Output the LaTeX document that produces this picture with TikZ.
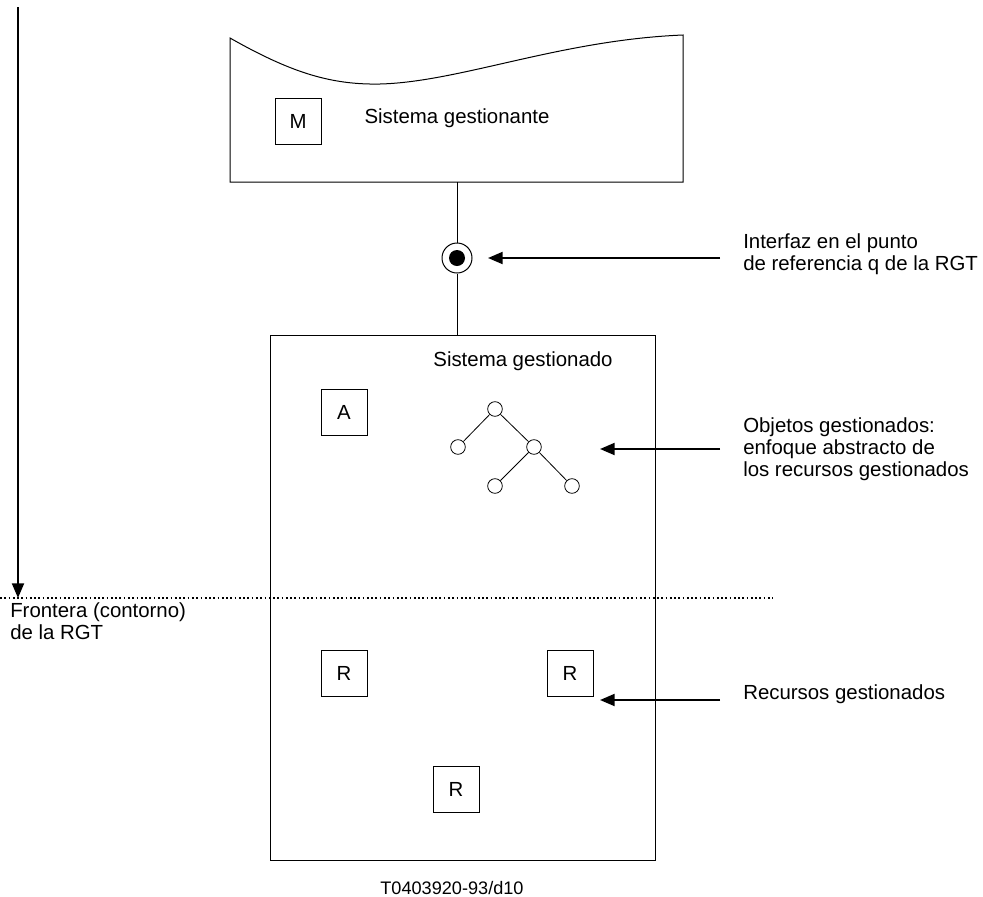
\documentclass[tikz,border=0pt]{standalone}
\usepackage{fontspec}
\setmainfont{Liberation Sans}
\usetikzlibrary{arrows.meta,positioning}

\begin{document}
\begin{tikzpicture}[
    x=0.75pt, y=-0.75pt,
    node distance=3mm,
    lbl/.style={font=\fontsize{15.3}{16.5}\selectfont, inner sep=0pt},
    sq/.style={rectangle, draw=black, line width=0.75pt, minimum width=34.5pt,
               minimum height=34.5pt, inner sep=0pt, font=\fontsize{15.3}{16.5}\selectfont},
    obj/.style={circle, draw=black, line width=0.6pt, minimum size=11pt, inner sep=0pt},
    note/.style={align=left, anchor=west, font=\fontsize{15.3}{16.5}\selectfont, inner sep=0pt},
    flow/.style={-{Triangle[length=11pt, width=9pt]}, line width=1.5pt}
]
\useasboundingbox (0,0) rectangle (983,897);

% managing system (wavy top)
\draw[line width=0.75pt] (230,38) .. controls (290,72) and (330,85) .. (380,84)
    .. controls (460,82) and (560,40) .. (683,35) -- (683,182) -- (230,182) -- cycle;
\coordinate (mgrbot) at (457,182);
\node[sq] (m) at (298,121) {M};
\node[lbl] (mgrtxt) at (457,118) {Sistema gestionante};

% interface point
\node[circle, draw=black, line width=0.75pt, minimum size=22.5pt, inner sep=0pt] (q) at (457,258) {};
\node[circle, fill=black, minimum size=12pt, inner sep=0pt] at (q) {};

% managed system
\node[rectangle, draw=black, line width=0.75pt, minimum width=288.75pt, minimum height=393.75pt,
      inner sep=0pt] (ms) at (462.5,597.5) {};
\node[lbl] (mstxt) at (523,361) {Sistema gestionado};
\draw[line width=0.75pt] (mgrbot) -- (q.north);
\draw[line width=0.75pt] (q.south) -- (ms.north -| q);

\node[sq] (a) at (344,412) {A};
\node[sq] (r1) at (344,673) {R};
\node[sq] (r2) at (570,673) {R};
\node[sq] (r3) at (456,789) {R};

% managed objects tree
\node[obj] (t0) at (495,409) {};
\node[obj] (t1) at (458,447) {};
\node[obj] (t2) at (534,447) {};
\node[obj] (t3) at (495,486) {};
\node[obj] (t4) at (572,486) {};
\draw[line width=0.6pt] (t0)--(t1) (t0)--(t2) (t2)--(t3) (t2)--(t4);

% boundary
\coordinate (ltop) at (18,7);
\coordinate (bnd) at (18,598);
\draw[line width=1.5pt, dash pattern=on 1.3pt off 1.9pt] (0,598) -- (773,598);
\draw[flow] (ltop) -- (bnd);
\node[note] (front) at (10,621) {Frontera (contorno)\\de la RGT};

% annotations
\node[note] (n1) at (743,254) {Interfaz en el punto\\de referencia q de la RGT};
\node[note] (n2) at (743,449) {Objetos gestionados:\\enfoque abstracto de\\los recursos gestionados};
\node[note] (n3) at (743,694) {Recursos gestionados};
\coordinate (e1) at (720,258);
\coordinate (e2) at (720,449);
\coordinate (e3) at (720,700);
\draw[flow] (e1) -- (488,258);
\draw[flow] (e2) -- (600,449);
\draw[flow] (e3) -- (600,700);

\node[font=\fontsize{13.6}{15}\selectfont, inner sep=0pt] (ref) at (452,888) {T0403920-93/d10};
\end{tikzpicture}
\end{document}
